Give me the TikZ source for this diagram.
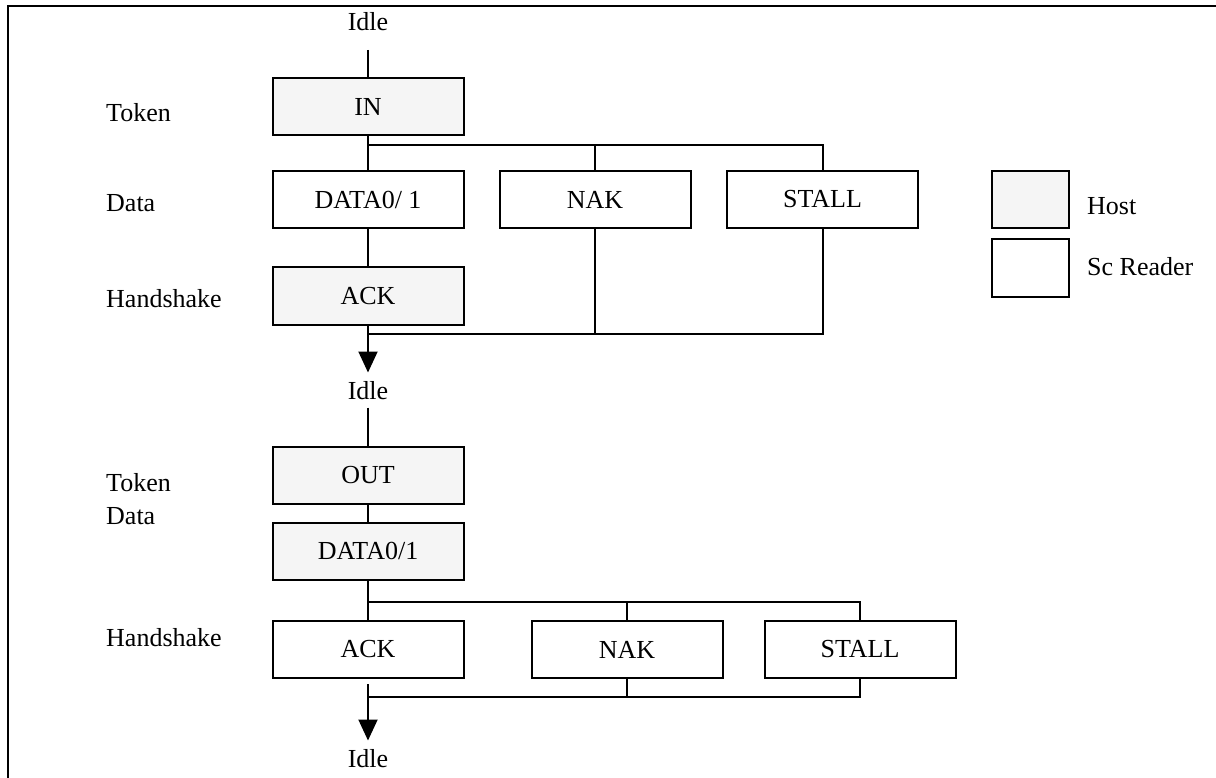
\documentclass[tikz,border=0pt]{standalone}
\usepackage{fontspec}
\setmainfont{Liberation Serif}
\usetikzlibrary{arrows.meta}
\definecolor{hostfill}{RGB}{245,245,245}
\begin{document}
\begin{tikzpicture}[x=1pt,y=-1pt,
  every node/.style={font=\fontsize{26}{31}\selectfont},
  wire/.style={line width=2pt},
  flow/.style={wire,-{Triangle[length=21pt,width=19pt]}},
  pkt/.style={draw,line width=2pt,minimum width=191pt,minimum height=57pt,inner sep=0pt},
  hostpkt/.style={pkt,fill=hostfill},
  readerpkt/.style={pkt,fill=white},
  keybox/.style={draw,line width=2pt,minimum width=77pt,minimum height=57pt,inner sep=0pt},
  state/.style={inner sep=0pt,outer sep=8.5pt,text height=18pt,text depth=0pt},
  phase/.style={anchor=west,inner sep=0pt,text height=18pt,text depth=0pt},
  keytext/.style={anchor=west,inner sep=0pt,text height=18pt,text depth=0pt}]
\useasboundingbox (0,0) rectangle (1216,778);

% frame
\draw[line width=2.5pt] (8,778) -- (8,6) -- (1216,6);

% ---------- IN transaction ----------
\node[state] (idle1) at (368,22) {Idle};
\node[hostpkt] (in) at (368,106.5) {IN};
\node[readerpkt] (data1) at (368,199.5) {DATA0/ 1};
\node[readerpkt] (nak1) at (595,199.5) {NAK};
\node[readerpkt] (stall1) at (822.5,199.5) {STALL};
\node[hostpkt] (ack1) at (368,296) {ACK};
\node[state] (idle2) at (368,390) {Idle};

\node[phase] (tok1) at (106,113) {Token};
\node[phase] (dat1) at (106,203) {Data};
\node[phase] (hs1) at (106,298) {Handshake};

\coordinate (fork1) at (368,145);
\coordinate (join1) at (368,334);

\draw[wire,shorten <=10.5pt] (idle1) -- (in);
\draw[wire] (in) -- (data1);
\draw[wire] (fork1) -| (stall1);
\draw[wire] (nak1.north) -- (nak1.north |- fork1);
\draw[wire] (data1) -- (ack1);
\draw[wire] (ack1) -- (join1);
\draw[wire] (nak1) |- (join1);
\draw[wire] (stall1) |- (join1);
\draw[flow] (join1) -- (idle2);

% ---------- OUT transaction ----------
\node[hostpkt] (out) at (368,475) {OUT};
\node[hostpkt] (data2) at (368,551) {DATA0/1};
\node[readerpkt] (ack2) at (368,649.5) {ACK};
\node[readerpkt] (nak2) at (627,649.5) {NAK};
\node[readerpkt] (stall2) at (860,649.5) {STALL};
\node[state] (idle3) at (368,758) {Idle};

\node[phase] (tok2) at (106,482) {Token};
\node[phase] (dat2) at (106,515) {Data};
\node[phase] (hs2) at (106,637) {Handshake};

\coordinate (fork2) at (368,602);
\coordinate (join2) at (368,697);

\draw[wire] (idle2) -- (out);
\draw[wire] (out) -- (data2);
\draw[wire] (data2) -- (ack2);
\draw[wire] (fork2) -| (stall2);
\draw[wire] (nak2.north) -- (nak2.north |- fork2);
\draw[wire,shorten <=5pt] (ack2) -- (join2);
\draw[wire] (nak2) |- (join2);
\draw[wire] (stall2) |- (join2);
\draw[flow] (join2) -- (idle3);

% ---------- key ----------
\node[keybox,fill=hostfill] (keyhost) at (1030.5,199.5) {};
\node[keybox,fill=white] (keyreader) at (1030.5,268) {};
\node[keytext] (keyhosttext) at (1087,206) {Host};
\node[keytext] (keyreadertext) at (1087,267) {Sc Reader};
\end{tikzpicture}
\end{document}
